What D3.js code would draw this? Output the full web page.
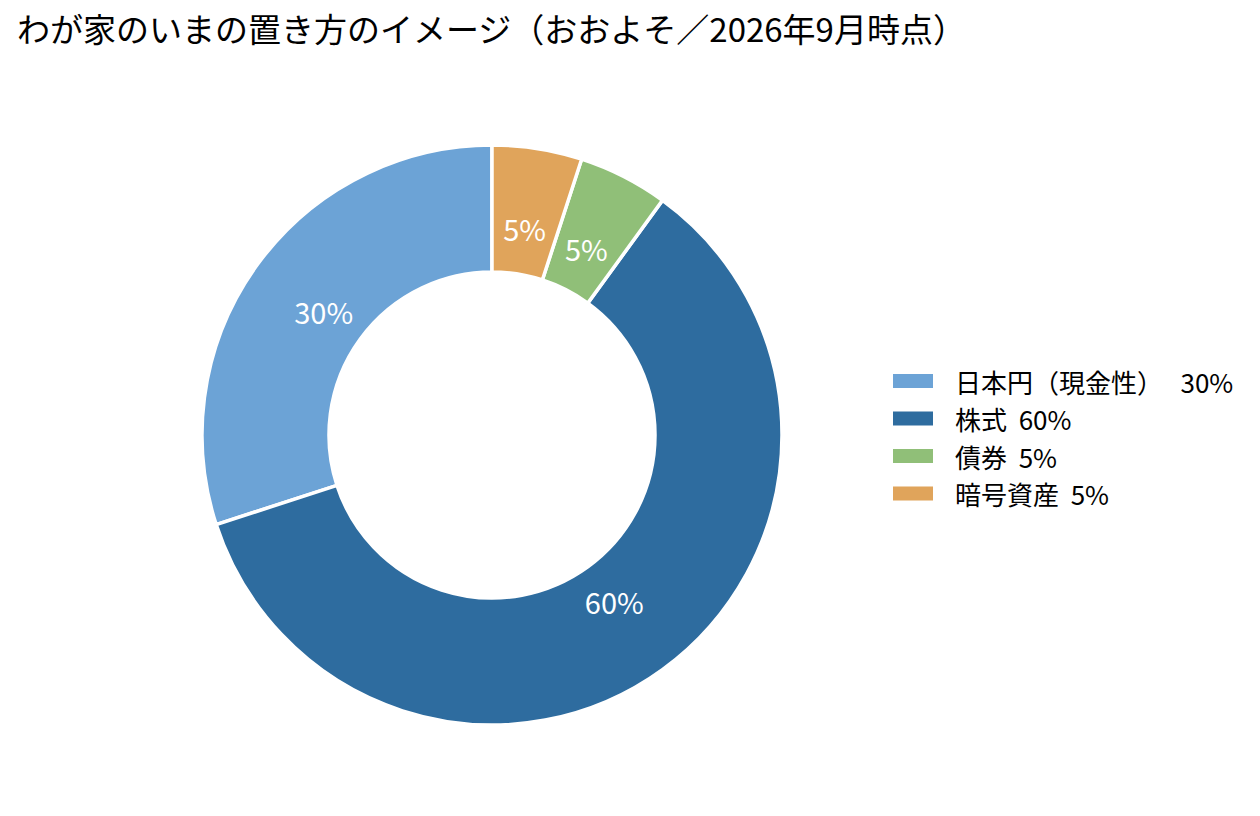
<!DOCTYPE html>
<html><head><meta charset="utf-8">
<script src="https://cdn.jsdelivr.net/npm/d3@7"></script>
<style>
html,body{margin:0;padding:0;background:#fff;}
svg{display:block;font-family:"Noto Sans CJK JP","Noto Sans",sans-serif;}
text{white-space:pre;}
</style></head>
<body>
<svg id="chart" width="1260" height="816"></svg>
<script>
const title = "わが家のいまの置き方のイメージ（おおよそ／2026年9月時点）";
const categories = ["日本円（現金性）", "株式", "債券", "暗号資産"];
const values = [30, 60, 5, 5];
const legendLabels = ["日本円（現金性）   30%", "株式  60%", "債券  5%", "暗号資産  5%"];
const colors = ["#6CA3D6", "#2E6C9F", "#90BF78", "#E0A45B"];

const svg = d3.select("#chart");
const cx = 492, cy = 435, R = 290, r = 163, labelR = 208;

svg.append("text").attr("x", 17).attr("y", 42)
  .attr("font-size", 33).attr("fill", "#000").text(title);

const pie = d3.pie().sort(null).startAngle(0).endAngle(-2 * Math.PI);
const arcs = pie(values);
const arc = d3.arc().innerRadius(r).outerRadius(R);
const labelArc = d3.arc().innerRadius(labelR).outerRadius(labelR);
const color = d3.scaleOrdinal().domain(categories).range(colors);

const g = svg.append("g").attr("transform", `translate(${cx},${cy})`);
g.selectAll("path").data(arcs).join("path")
  .attr("d", arc)
  .attr("fill", (d, i) => color(categories[i]))
  .attr("stroke", "#fff").attr("stroke-width", 3.5).attr("stroke-linejoin", "miter");

g.selectAll("text.pct").data(arcs).join("text").attr("class", "pct")
  .attr("transform", d => `translate(${labelArc.centroid(d)})`)
  .attr("text-anchor", "middle").attr("dominant-baseline", "central")
  .attr("dy", -2)
  .attr("font-size", 29).attr("fill", "#fff")
  .text(d => d.data + "%");

const legend = svg.append("g").attr("transform", "translate(893,381)");
const y = d3.scalePoint().domain(categories).range([0, 112.5]);
const rows = legend.selectAll("g").data(categories).join("g")
  .attr("transform", d => `translate(0,${y(d)})`);
rows.append("rect").attr("x", 0).attr("y", -7).attr("width", 40).attr("height", 14)
  .attr("fill", d => color(d));
rows.append("text").attr("x", 62).attr("y", 0).attr("dominant-baseline", "central")
  .attr("font-size", 26).attr("fill", "#000")
  .text((d, i) => legendLabels[i]);
</script>
</body></html>
